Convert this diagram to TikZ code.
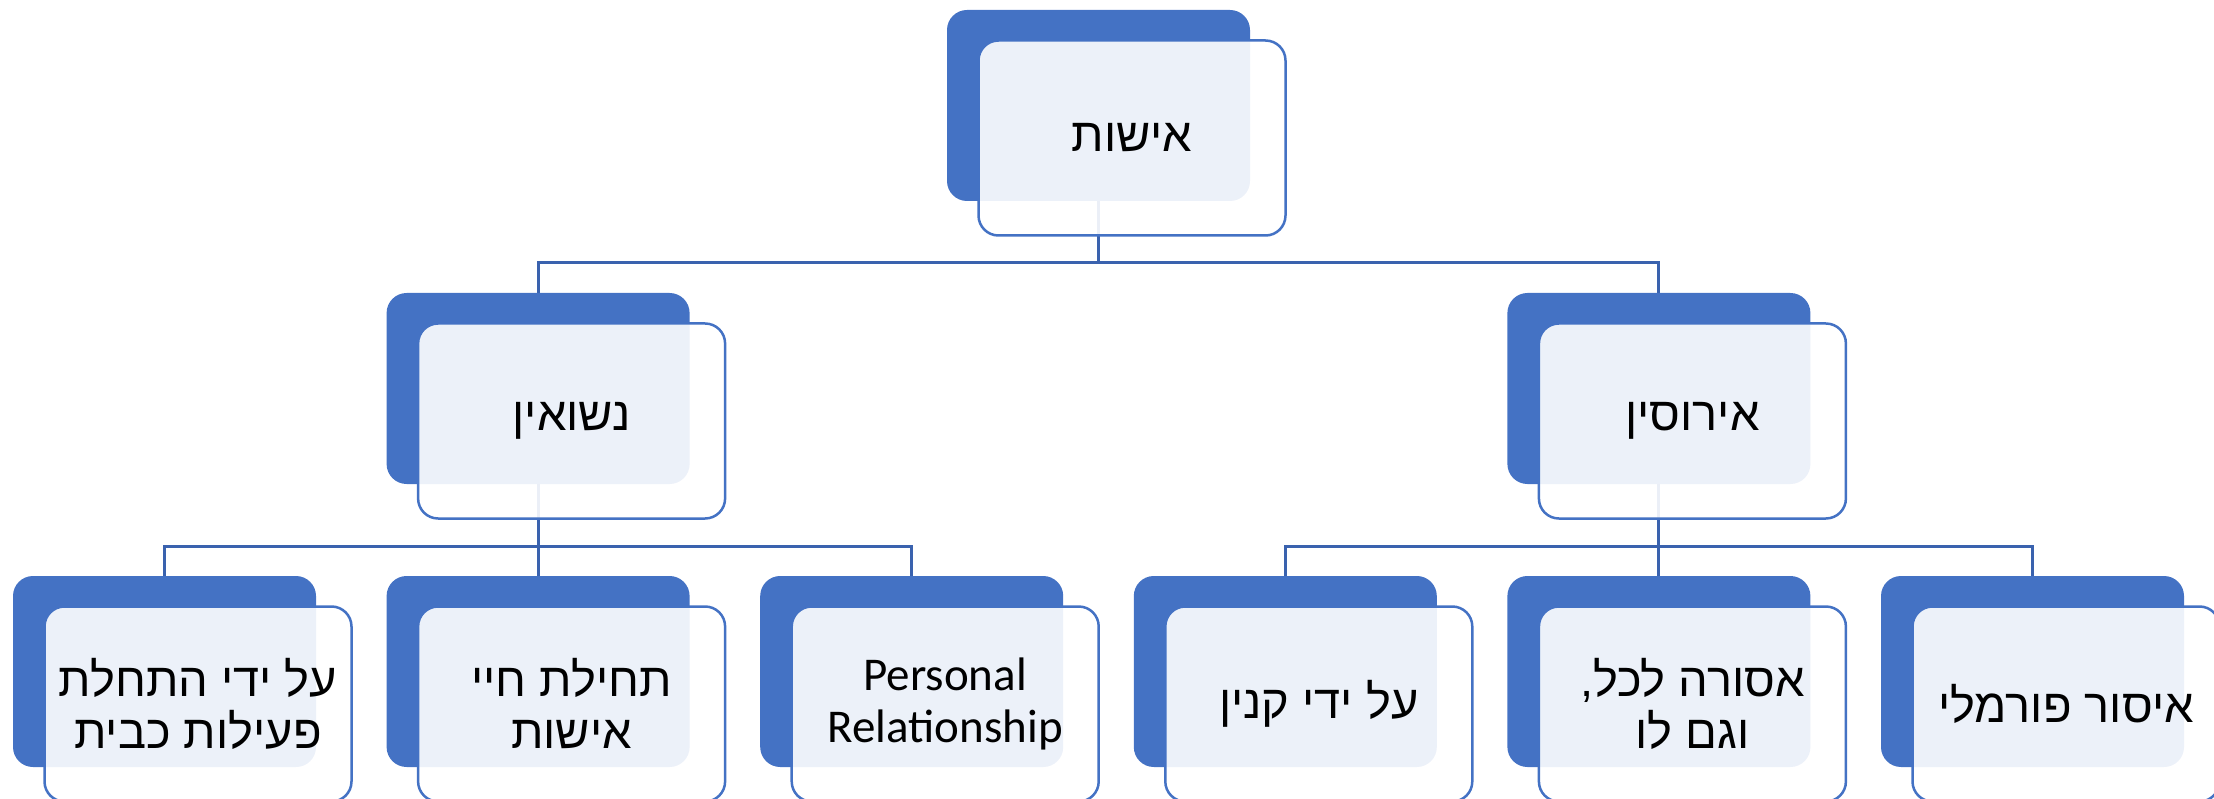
\documentclass[tikz,border=0pt]{standalone}
\usepackage{fontspec}
\usetikzlibrary{backgrounds}
\TeXXeTstate=1
\newfontfamily\heb[Script=Hebrew]{Liberation Sans}
\newfontfamily\eng{Carlito}
\definecolor{mainblue}{HTML}{4472C4}
\definecolor{linkblue}{HTML}{3A62AE}
\newcommand{\hl}[1]{\beginR #1\endR}
\begin{document}
\begin{tikzpicture}[x=1pt,y=-1pt,
  backbox/.style={rectangle, rounded corners=20pt, fill=mainblue, draw=none,
    minimum width=303pt, minimum height=191pt, inner sep=0pt, outer sep=0pt},
  frontbox/.style={rectangle, rounded corners=20pt, draw=mainblue, line width=2.5pt,
    fill=white, fill opacity=0.9, text opacity=1,
    minimum width=307pt, minimum height=195pt, inner sep=0pt, outer sep=0pt,
    align=center, font=\heb\fontsize{47}{52}\selectfont},
  link/.style={draw=linkblue, line width=3pt}]
\useasboundingbox (0,0) rectangle (2214,799);
\clip (0,0) rectangle (2214,799);
% level 1
\node[backbox] (b0) at (1098.5,105.5) {};
\node[frontbox] (f0) at ([shift={(33.5,32.5)}]b0.center) {\hl{אישות}};
% level 2
\node[backbox] (b1) at (538.1,388.5) {};
\node[frontbox] (f1) at ([shift={(33.5,32.5)}]b1.center) {\hl{נשואין}};
\node[backbox] (b2) at (1658.9,388.5) {};
\node[frontbox] (f2) at ([shift={(33.5,32.5)}]b2.center) {\hl{אירוסין}};
% level 3
\node[backbox] (c1) at (164.5,671.5) {};
\node[frontbox] (g1) at ([shift={(33.5,32.5)}]c1.center) {\hl{על ידי התחלת}\\\hl{פעילות כבית}};
\node[backbox] (c2) at (538.1,671.5) {};
\node[frontbox] (g2) at ([shift={(33.5,32.5)}]c2.center) {\hl{תחילת חיי}\\\hl{אישות}};
\node[backbox] (c3) at (911.7,671.5) {};
\node[frontbox, font=\eng\fontsize{47}{52}\selectfont] (g3) at ([shift={(33.5,32.5)}]c3.center) {Personal\\Relationship};
\node[backbox] (c4) at (1285.3,671.5) {};
\node[frontbox] (g4) at ([shift={(33.5,32.5)}]c4.center) {\hl{על ידי קנין}};
\node[backbox] (c5) at (1658.9,671.5) {};
\node[frontbox] (g5) at ([shift={(33.5,32.5)}]c5.center) {\hl{אסורה לכל,}\\\hl{וגם לו}};
\node[backbox] (c6) at (2032.5,671.5) {};
\node[frontbox] (g6) at ([shift={(33.5,32.5)}]c6.center) {\hl{איסור פורמלי}};
% connectors
\begin{scope}[on background layer]
  \path (b0.south) ++(0,62) coordinate (bus0);
  \draw[link] (b0.south) -- (bus0);
  \draw[link] (b1.north) |- (bus0) -| (b2.north);
  \path (b1.south) ++(0,62) coordinate (bus1);
  \draw[link] (b1.south) -- (c2.north);
  \draw[link] (c1.north) |- (bus1) -| (c3.north);
  \path (b2.south) ++(0,62) coordinate (bus2);
  \draw[link] (b2.south) -- (c5.north);
  \draw[link] (c4.north) |- (bus2) -| (c6.north);
\end{scope}
\end{tikzpicture}
\end{document}
